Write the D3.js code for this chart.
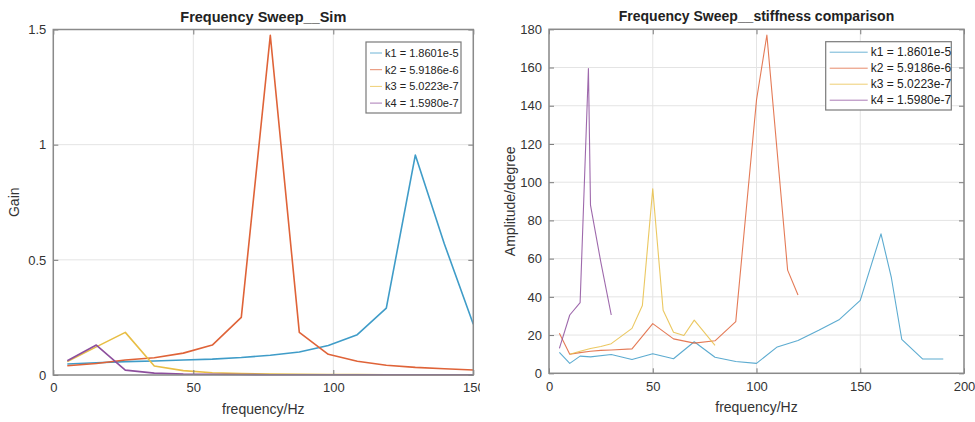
<!DOCTYPE html>
<html>
<head>
<meta charset="utf-8">
<script src="https://cdn.jsdelivr.net/npm/d3@7"></script>
<style>
  body { margin: 0; background: #fff; }
  svg { font-family: "Liberation Sans", Arial, sans-serif; }
</style>
</head>
<body>
<svg id="svg"></svg>
<script>
let width = 975;
let height = 422;

// legend labels, same for both plots
const legendLabels = ["k1 = 1.8601e-5", "k2 = 5.9186e-6", "k3 = 5.0223e-7", "k4 = 1.5980e-7"];
const colors = ["#3f9cc8", "#df6338", "#e8be45", "#8d4f9d"];

// left plot: simulated gain
const simFreq = [5, 15.36, 25.71, 36.07, 46.43, 56.79, 67.14, 77.5, 87.86, 98.21, 108.57, 118.93, 129.29, 139.64, 150];
const simK1 = [0.048, 0.053, 0.058, 0.061, 0.065, 0.069, 0.076, 0.086, 0.1, 0.128, 0.175, 0.29, 0.955, 0.57, 0.22];
const simK2 = [0.04, 0.05, 0.065, 0.075, 0.095, 0.13, 0.25, 1.475, 0.185, 0.09, 0.06, 0.042, 0.033, 0.027, 0.022];
const simK3 = [0.058, 0.122, 0.185, 0.039, 0.019, 0.01, 0.006, 0.004, 0.003, 0.002, 0.002, 0.001, 0.001, 0.001, 0.001];
const simK4 = [0.062, 0.13, 0.021, 0.008, 0.004, 0.003, 0.002, 0.001, 0.001, 0.001, 0.001, 0.001, 0.001, 0.001, 0.001];

const simXTicks = [0, 50, 100, 150];
const simYTicks = [0, 0.5, 1, 1.5];

// right plot: measured amplitude
const k1Freq = [5, 10, 15, 20, 30, 40, 50, 60, 70, 80, 90, 100, 110, 120, 130, 140, 150, 160, 165, 170, 180, 190];
const k1Amp = [11, 5.2, 9, 8.6, 9.8, 7.2, 10.2, 7.6, 16.5, 8.4, 6.2, 5.2, 13.8, 17.2, 22.5, 28.2, 38.2, 73, 50, 17.8, 7.5, 7.5];
const k2Freq = [5, 10, 15, 20, 25, 30, 40, 50, 60, 70, 80, 90, 100, 105, 115, 120];
const k2Amp = [21, 10, 10.8, 11.5, 12, 12.2, 12.8, 26, 18, 15.8, 17, 27, 143, 177, 54, 41];
const k3Freq = [10, 15, 20, 25, 30, 40, 45, 50, 55, 60, 65, 70, 80];
const k3Amp = [10, 11.5, 13, 14, 15.5, 23.5, 35.5, 96.5, 33, 21.5, 19.8, 27.8, 14.6];
const k4Freq = [5, 10, 15, 19, 20, 25, 30];
const k4Amp = [13, 30.5, 37, 159.5, 88, 58, 30.5];

const ampXTicks = [0, 50, 100, 150, 200];
const ampYTicks = [0, 20, 40, 60, 80, 100, 120, 140, 160, 180];

let svg = d3.select("#svg")
    .attr("width", width)
    .attr("height", height);

function drawPanel(cfg) {
    let g = svg.append("g");
    if (cfg.clipRight) {
        svg.append("clipPath").attr("id", cfg.id + "-clip")
            .append("rect").attr("x", 0).attr("y", 0).attr("width", cfg.clipRight).attr("height", height);
        g.attr("clip-path", "url(#" + cfg.id + "-clip)");
    }

    let x = d3.scaleLinear().domain(cfg.xDomain).range([cfg.left, cfg.right]);
    let y = d3.scaleLinear().domain(cfg.yDomain).range([cfg.bottom, cfg.top]);

    // grid
    g.append("g").selectAll("line").data(cfg.xTicks).join("line")
        .attr("x1", d => x(d)).attr("x2", d => x(d))
        .attr("y1", cfg.top).attr("y2", cfg.bottom)
        .attr("stroke", "#e4e4e4").attr("stroke-width", 1);
    g.append("g").selectAll("line").data(cfg.yTicks).join("line")
        .attr("x1", cfg.left).attr("x2", cfg.right)
        .attr("y1", d => y(d)).attr("y2", d => y(d))
        .attr("stroke", "#e4e4e4").attr("stroke-width", 1);

    // the curves
    let line = d3.line().x(d => x(d[0])).y(d => y(d[1]));
    cfg.series.forEach((s, i) => {
        let pts = s.xs.map((v, j) => [v, s.ys[j]]);
        g.append("path").datum(pts)
            .attr("d", line)
            .attr("fill", "none")
            .attr("stroke", colors[i])
            .attr("stroke-opacity", cfg.lineOpacity)
            .attr("stroke-width", cfg.lineWidth)
            .attr("stroke-linejoin", "round");
    });

    // axes, ticks pointing inward like matlab
    let fmt = d3.format("~g");
    g.append("g").attr("transform", "translate(0," + cfg.bottom + ")")
        .call(d3.axisBottom(x).tickValues(cfg.xTicks).tickSize(-5).tickPadding(8).tickFormat(fmt));
    g.append("g").attr("transform", "translate(" + cfg.left + ",0)")
        .call(d3.axisLeft(y).tickValues(cfg.yTicks).tickSize(-5).tickPadding(7).tickFormat(fmt));
    g.append("g").attr("transform", "translate(0," + cfg.top + ")")
        .call(d3.axisTop(x).tickValues(cfg.xTicks).tickSize(-5).tickFormat(""));
    g.append("g").attr("transform", "translate(" + cfg.right + ",0)")
        .call(d3.axisRight(y).tickValues(cfg.yTicks).tickSize(-5).tickFormat(""));

    g.selectAll(".domain").attr("stroke", "none");
    g.selectAll(".tick line").attr("stroke", "#7a7a7a");
    g.selectAll(".tick text").attr("fill", "#333").attr("font-size", "13px");

    // box round the plot
    g.append("rect")
        .attr("x", cfg.left).attr("y", cfg.top)
        .attr("width", cfg.right - cfg.left).attr("height", cfg.bottom - cfg.top)
        .attr("fill", "none").attr("stroke", "#8a8a8a").attr("stroke-width", 1.5);

    // titles and labels
    let cx = (cfg.left + cfg.right) / 2;
    g.append("text").attr("x", cx).attr("y", cfg.top - 8)
        .attr("text-anchor", "middle").attr("font-size", cfg.titleSize).attr("font-weight", "bold")
        .attr("fill", "#222").text(cfg.title);
    g.append("text").attr("x", cx).attr("y", cfg.bottom + 39)
        .attr("text-anchor", "middle").attr("font-size", "14px")
        .attr("fill", "#333").text(cfg.xLabel);
    g.append("text")
        .attr("transform", "translate(" + cfg.yLabelX + "," + ((cfg.top + cfg.bottom) / 2) + ") rotate(-90)")
        .attr("text-anchor", "middle").attr("font-size", "14px")
        .attr("fill", "#333").text(cfg.yLabel);

    // legend
    let lg = cfg.legend;
    let leg = g.append("g");
    leg.append("rect")
        .attr("x", lg.x).attr("y", lg.y).attr("width", lg.w).attr("height", lg.h)
        .attr("fill", "#fff").attr("stroke", "#7a7a7a").attr("stroke-width", 1.2);
    legendLabels.forEach((lab, i) => {
        let yy = lg.y + lg.first + i * lg.step;
        leg.append("line")
            .attr("x1", lg.x + lg.pad).attr("x2", lg.x + lg.pad + lg.lineLen)
            .attr("y1", yy).attr("y2", yy)
            .attr("stroke", colors[i]).attr("stroke-opacity", 0.75).attr("stroke-width", 1);
        leg.append("text")
            .attr("x", lg.x + lg.pad + lg.lineLen + 3).attr("y", yy)
            .attr("dy", "0.35em").attr("font-size", lg.font)
            .attr("fill", "#222").text(lab);
    });
}

drawPanel({
    id: "sim",
    left: 53.3, right: 473.3, top: 29.5, bottom: 375,
    xDomain: [0, 150], yDomain: [0, 1.5],
    xTicks: simXTicks, yTicks: simYTicks,
    clipRight: 480,
    lineWidth: 1.6,
    lineOpacity: 1,
    title: "Frequency Sweep__Sim",
    titleSize: "14.5px",
    xLabel: "frequency/Hz",
    yLabel: "Gain",
    yLabelX: 19,
    series: [
        { xs: simFreq, ys: simK1 },
        { xs: simFreq, ys: simK2 },
        { xs: simFreq, ys: simK3 },
        { xs: simFreq, ys: simK4 }
    ],
    legend: { x: 366, y: 42, w: 95, h: 71, first: 11, step: 16.7, pad: 4, lineLen: 12, font: "11px" }
});

drawPanel({
    id: "amp",
    left: 549, right: 964, top: 29.3, bottom: 373.3,
    xDomain: [0, 200], yDomain: [0, 180],
    xTicks: ampXTicks, yTicks: ampYTicks,
    lineWidth: 1.1,
    lineOpacity: 0.85,
    title: "Frequency Sweep__stiffness comparison",
    titleSize: "14px",
    xLabel: "frequency/Hz",
    yLabel: "Amplitude/degree",
    yLabelX: 515,
    series: [
        { xs: k1Freq, ys: k1Amp },
        { xs: k2Freq, ys: k2Amp },
        { xs: k3Freq, ys: k3Amp },
        { xs: k4Freq, ys: k4Amp }
    ],
    legend: { x: 825.7, y: 41.7, w: 125.6, h: 68.3, first: 10.5, step: 16, pad: 4, lineLen: 38, font: "12px" }
});
</script>
</body>
</html>
